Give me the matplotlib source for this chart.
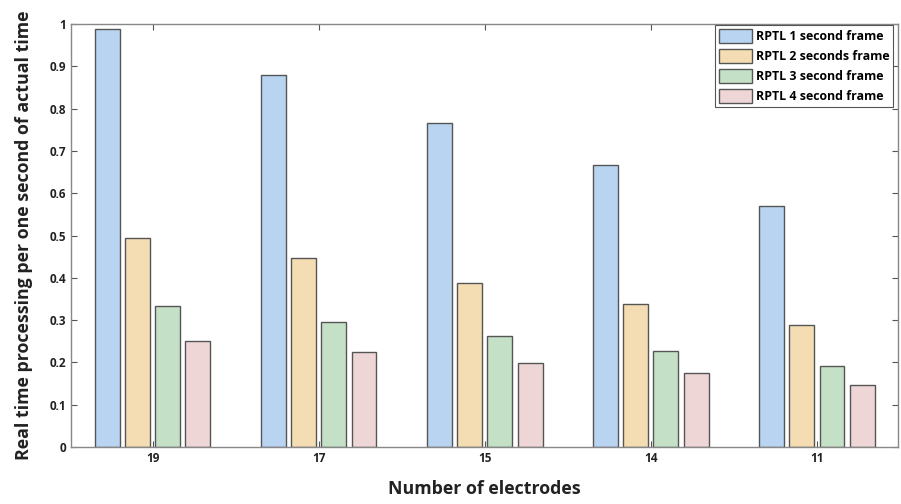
import numpy as np
import matplotlib
matplotlib.use("Agg")
import matplotlib.pyplot as plt

# Data
electrodes = ["19", "17", "15", "14", "11"]
rptl_1s = [0.988, 0.879, 0.766, 0.667, 0.570]
rptl_2s = [0.494, 0.446, 0.388, 0.338, 0.288]
rptl_3s = [0.333, 0.296, 0.262, 0.226, 0.192]
rptl_4s = [0.251, 0.225, 0.199, 0.175, 0.147]
series_labels = ["RPTL 1 second frame", "RPTL 2 seconds frame",
                 "RPTL 3 second frame", "RPTL 4 second frame"]

colors = ["#b9d4f1", "#f4ddb3", "#c4e1c7", "#eed6d6"]

plt.rcParams['font.family'] = ['Open Sans', 'DejaVu Sans']

fig = plt.figure(figsize=(9.01, 5.04), dpi=100)
ax = fig.add_axes([0.079, 0.113, 0.918, 0.839])

x = np.arange(1, len(electrodes) + 1)
width = 0.15
offsets = [-0.273, -0.091, 0.091, 0.273]
all_series = [rptl_1s, rptl_2s, rptl_3s, rptl_4s]
for vals, off, col, lab in zip(all_series, offsets, colors, series_labels):
    ax.bar(x + off, vals, width, color=col, edgecolor="#555555",
           linewidth=1.0, label=lab)

ax.set_xlim(0.51, 5.49)
ax.set_ylim(0, 1)
ax.set_xticks(x)
ax.set_xticklabels(electrodes)
ax.set_yticks(np.arange(0, 1.01, 0.1))
ax.set_yticklabels(["0", "0.1", "0.2", "0.3", "0.4", "0.5", "0.6", "0.7",
                    "0.8", "0.9", "1"])
ax.tick_params(direction="in", length=4, width=0.8, colors="#555555",
               labelcolor="#222222", labelsize=8.5, top=True, right=True)
for lbl in ax.get_xticklabels() + ax.get_yticklabels():
    lbl.set_fontweight("bold")
for sp in ax.spines.values():
    sp.set_color("#888888")
    sp.set_linewidth(1.0)

ax.set_xlabel("Number of electrodes", fontsize=12.8, fontweight="bold",
              color="#222222", labelpad=11)
ax.set_ylabel("Real time processing per one second of actual time",
              fontsize=12.8, fontweight="bold", color="#222222", labelpad=12)

leg = ax.legend(loc="upper right", prop={'weight': 'bold', 'size': 8.9},
                fancybox=False, edgecolor="#555555", framealpha=1,
                handlelength=2.7, handleheight=1.3, labelspacing=0.5,
                borderaxespad=0.1, handletextpad=0.3, borderpad=0.3,
                bbox_to_anchor=(0.995, 1.0))
leg.get_frame().set_linewidth(0.8)

fig.savefig("out.png", dpi=100)
